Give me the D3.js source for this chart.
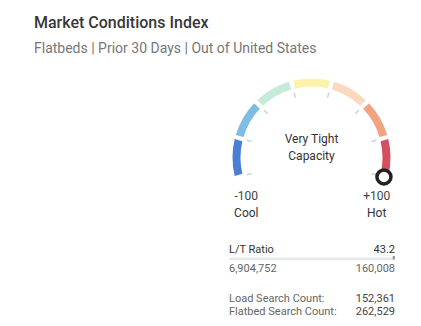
<!DOCTYPE html>
<html>
<head>
<meta charset="utf-8">
<script src="https://cdn.jsdelivr.net/npm/d3@7"></script>
<style>
  html, body { margin: 0; padding: 0; background: #fff; }
  svg { display: block; font-family: Roboto, "Noto Sans", sans-serif; }
</style>
</head>
<body>
<svg id="chart" width="421" height="326"></svg>
<script>
// Header
const titleText = "Market Conditions Index";
const subtitleText = "Flatbeds | Prior 30 Days | Out of United States";

// Gauge
const gaugeDomain = [-100, 100];
const bandColors = ["#4b7fd4", "#7dbde2", "#c6ecd9", "#fdf3a8", "#fbd8bf", "#f3a282", "#d5505e"];
const indexValue = 100;
const statusLines = ["Very Tight", "Capacity"];
const endValues = [-100, 100];
const endTickLabels = ["-100", "+100"];
const endNames = ["Cool", "Hot"];

// Load / truck figures
const ratioLabel = "L/T Ratio";
const ltRatio = 43.2;
const loadPosts = 6904752;
const truckPosts = 160008;
const statLabels = ["Load Search Count:", "Flatbed Search Count:"];
const statValues = [152361, 262529];

const svg = d3.select("#chart");
const fmt = d3.format(",");

svg.append("text").attr("x", 34).attr("y", 28)
  .attr("font-size", 16).attr("font-weight", 500).attr("fill", "#383838")
  .text(titleText);
svg.append("text").attr("x", 34).attr("y", 52.5)
  .attr("font-size", 14).attr("fill", "#777")
  .text(subtitleText);

// ---- gauge ----
const cx = 311.5, cy = 157.5, rOuter = 79, rInner = 71;
const rMid = (rOuter + rInner) / 2;
const toRad = d => d * Math.PI / 180;
const angle = d3.scaleLinear().domain(gaugeDomain).range([toRad(-105), toRad(105)]);
const bandEdges = d3.range(bandColors.length + 1)
  .map(i => gaugeDomain[0] + i * (gaugeDomain[1] - gaugeDomain[0]) / bandColors.length);

const g = svg.append("g").attr("transform", `translate(${cx},${cy})`);
const arc = d3.arc().innerRadius(rInner).outerRadius(rOuter).padAngle(0.04);

g.selectAll("path.band")
  .data(bandColors)
  .join("path")
  .attr("class", "band")
  .attr("fill", d => d)
  .attr("d", (d, i) => arc({ startAngle: angle(bandEdges[i]), endAngle: angle(bandEdges[i + 1]) }));

// tick marks at band boundaries
const tickEdges = bandEdges.filter((d, i) => i > 0 && i < bandEdges.length - 1)
  .concat([gaugeDomain[0], gaugeDomain[1]]);
g.selectAll("line.tick")
  .data(tickEdges)
  .join("line")
  .attr("class", "tick")
  .attr("x1", d => 62 * Math.sin(angle(d)))
  .attr("y1", d => -62 * Math.cos(angle(d)))
  .attr("x2", d => 67 * Math.sin(angle(d)))
  .attr("y2", d => -67 * Math.cos(angle(d)))
  .attr("stroke", "#cdd2da")
  .attr("stroke-width", 1.5);

// status text
g.selectAll("text.status")
  .data(statusLines)
  .join("text")
  .attr("class", "status")
  .attr("x", 0)
  .attr("y", (d, i) => -14.5 + i * 17)
  .attr("text-anchor", "middle")
  .attr("font-size", 12)
  .attr("fill", "#333")
  .text(d => d);

// end labels
const endG = g.selectAll("g.end")
  .data(endValues)
  .join("g")
  .attr("class", "end")
  .attr("transform", d => `translate(${(rMid - 7.5) * Math.sin(angle(d))},0)`);
endG.append("text")
  .attr("y", 42.5).attr("text-anchor", "middle")
  .attr("font-size", 12).attr("fill", "#444")
  .text((d, i) => endTickLabels[i]);
endG.append("text")
  .attr("y", 59).attr("text-anchor", "middle")
  .attr("font-size", 12).attr("fill", "#333")
  .text((d, i) => endNames[i]);

// value knob
g.append("circle")
  .attr("cx", rMid * Math.sin(angle(indexValue)))
  .attr("cy", -rMid * Math.cos(angle(indexValue)))
  .attr("r", 7)
  .attr("fill", "#fff")
  .attr("stroke", "#222")
  .attr("stroke-width", 3.5);

// ---- L/T ratio block ----
const left = 229, right = 395;
svg.append("text").attr("x", left).attr("y", 253)
  .attr("font-size", 11).attr("fill", "#333").text(ratioLabel);
svg.append("text").attr("x", right).attr("y", 253).attr("text-anchor", "end")
  .attr("font-size", 11).attr("fill", "#333").text(ltRatio);

const share = d3.scaleLinear().domain([0, 1]).range([left, right]);
svg.append("rect").attr("x", share(0)).attr("y", 257.5)
  .attr("width", share(1) - share(0)).attr("height", 2.5).attr("fill", "#e7e9ed");
const loadShare = loadPosts / (loadPosts + truckPosts);
svg.append("rect").attr("x", share(loadShare) + 1.5).attr("y", 256)
  .attr("width", 2).attr("height", 3.5).attr("fill", "#8c8f96");

svg.append("text").attr("x", left).attr("y", 272)
  .attr("font-size", 11).attr("fill", "#666").text(fmt(loadPosts));
svg.append("text").attr("x", right).attr("y", 272).attr("text-anchor", "end")
  .attr("font-size", 11).attr("fill", "#666").text(fmt(truckPosts));

svg.selectAll("text.statLabel")
  .data(statLabels)
  .join("text")
  .attr("class", "statLabel")
  .attr("x", left)
  .attr("y", (d, i) => 302 + i * 13)
  .attr("font-size", 11).attr("fill", "#666")
  .text(d => d);
svg.selectAll("text.statValue")
  .data(statValues)
  .join("text")
  .attr("class", "statValue")
  .attr("x", right)
  .attr("y", (d, i) => 302 + i * 13)
  .attr("text-anchor", "end")
  .attr("font-size", 11).attr("fill", "#444")
  .text(d => fmt(d));
</script>
</body>
</html>
